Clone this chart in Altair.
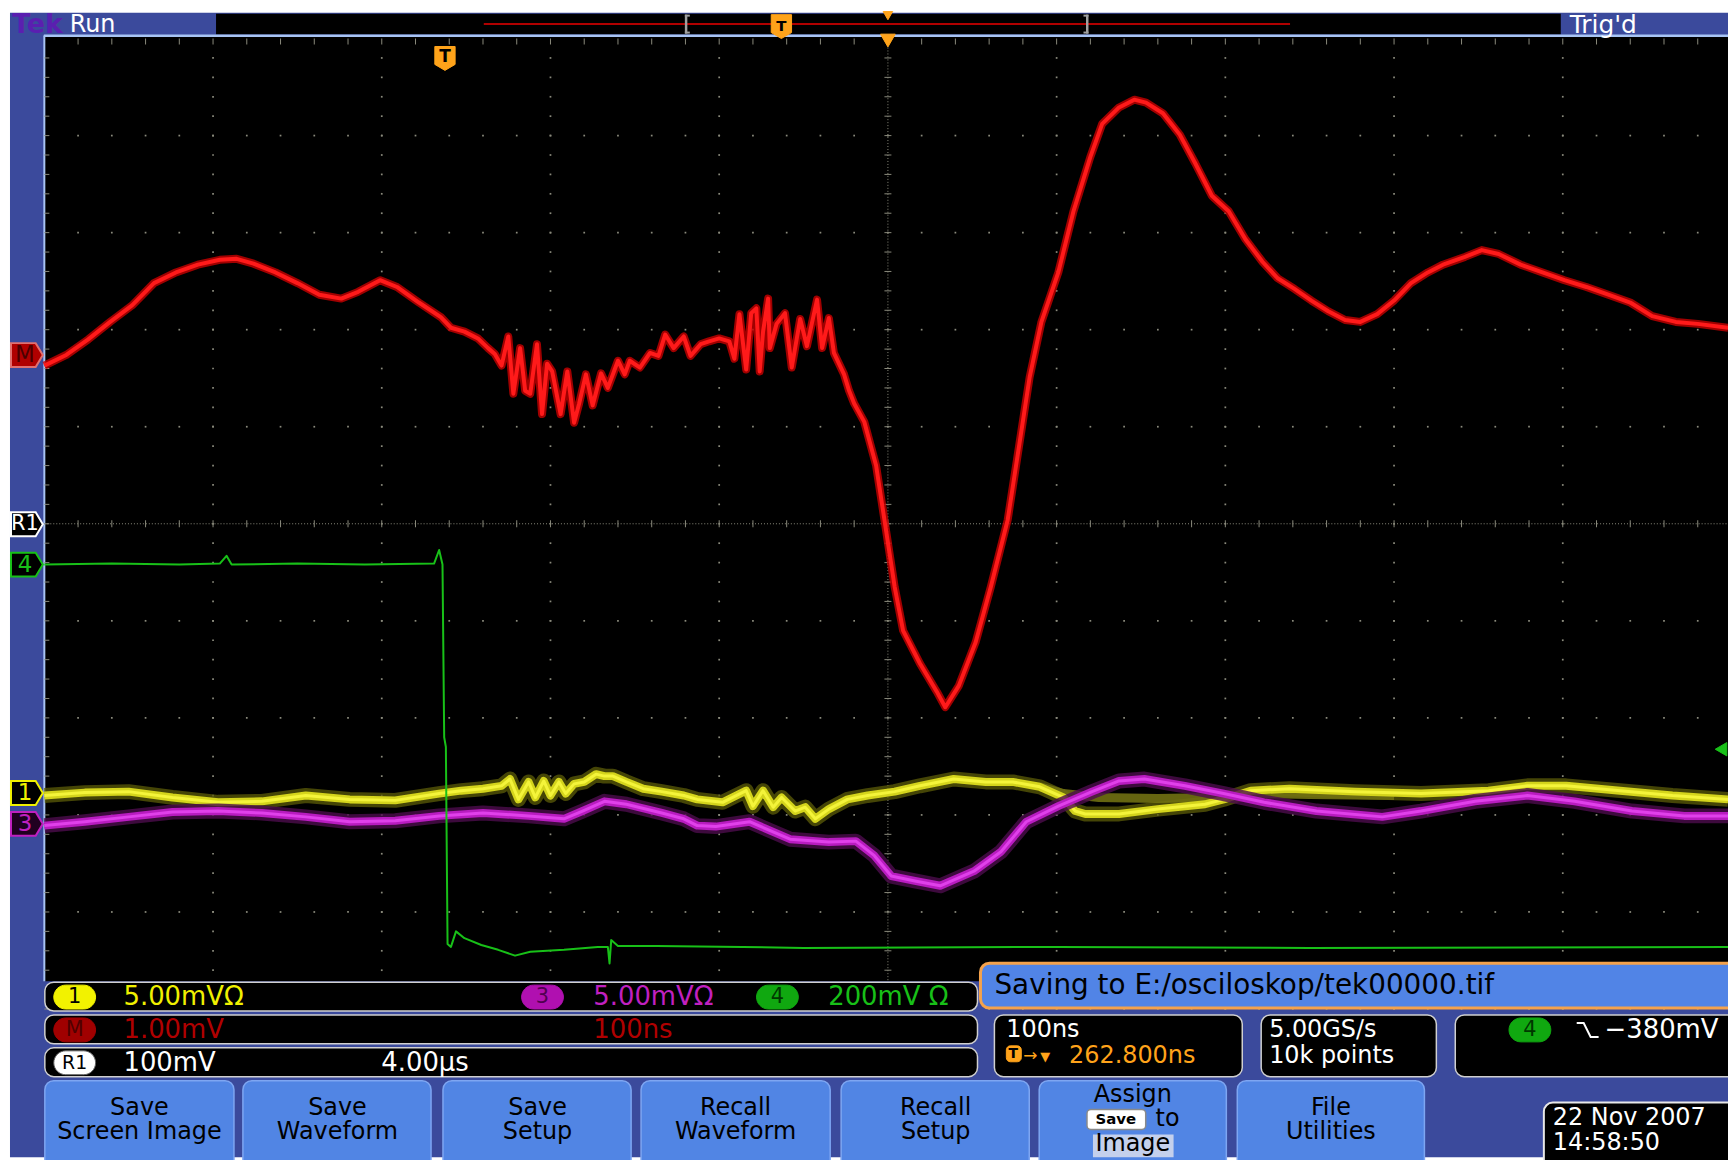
import altair as alt
import pandas as pd

# ---------------- data read from the screen ----------------
# time in ns from the left edge of the graticule (100 ns/div), level in divisions from centre line
red_t = [0, 13, 26, 39, 52, 65, 78, 91, 104, 114, 124, 137, 150, 163, 176, 186, 199, 209, 222, 235,
         241, 249, 257, 263, 267, 271, 275, 278, 282, 285, 288, 292, 295, 298, 301, 306, 310, 314, 317, 321,
         325, 330, 334, 340, 344, 347, 353, 359, 364, 368, 373, 379, 383, 389, 394, 400, 406, 409, 412, 416,
         419, 422, 424, 426, 429, 430, 434, 439, 443, 448, 452, 458, 461, 465, 468, 474, 477, 480, 486, 493,
         499, 504, 509, 519, 529, 534, 542, 552, 561, 571, 578, 584, 591, 601, 610, 620, 627, 637, 646, 653,
         663, 673, 682, 692, 702, 712, 722, 731, 741, 751, 761, 771, 780, 790, 800, 810, 820, 829, 842, 852,
         862, 875, 888, 901, 914, 927, 940, 953, 967, 980, 998]
red_v = [1.63, 1.74, 1.90, 2.08, 2.25, 2.48, 2.59, 2.67, 2.72, 2.73, 2.68, 2.59, 2.48, 2.36, 2.32, 2.39, 2.51, 2.44, 2.28, 2.13,
         2.02, 1.98, 1.91, 1.81, 1.75, 1.63, 1.93, 1.34, 1.81, 1.37, 1.34, 1.85, 1.13, 1.65, 1.57, 1.13, 1.57, 1.04, 1.24, 1.54,
         1.22, 1.55, 1.40, 1.68, 1.54, 1.68, 1.61, 1.76, 1.73, 1.95, 1.81, 1.93, 1.73, 1.85, 1.88, 1.91, 1.88, 1.70, 2.16, 1.59,
         2.17, 2.22, 1.57, 1.98, 2.32, 1.81, 2.06, 2.17, 1.61, 2.11, 1.83, 2.31, 1.81, 2.12, 1.76, 1.54, 1.37, 1.24, 1.05, 0.60,
         -0.08, -0.65, -1.10, -1.44, -1.73, -1.89, -1.67, -1.22, -0.65, 0.04, 0.83, 1.51, 2.08, 2.59, 3.22, 3.78, 4.12, 4.29, 4.37, 4.34,
         4.23, 4.01, 3.72, 3.38, 3.22, 2.93, 2.70, 2.53, 2.42, 2.30, 2.19, 2.10, 2.08, 2.16, 2.30, 2.48, 2.59, 2.67, 2.75, 2.82,
         2.78, 2.67, 2.59, 2.51, 2.44, 2.36, 2.28, 2.14, 2.08, 2.06, 2.02]

yel_t = [0, 24, 50, 76, 103, 129, 155, 181, 208, 234, 247, 260, 271, 276, 281, 287, 291, 296, 300, 305,
         309, 314, 320, 327, 332, 337, 345, 355, 366, 379, 387, 402, 416, 420, 426, 432, 437, 445, 451, 457,
         465, 476, 488, 504, 519, 539, 558, 574, 590, 604, 611, 617, 637, 660, 688, 699, 715, 738, 777, 816,
         856, 879, 902, 934, 965, 998]
yel_v = [-2.80, -2.77, -2.76, -2.82, -2.87, -2.86, -2.80, -2.84, -2.85, -2.78, -2.75, -2.73, -2.70, -2.63, -2.84, -2.66, -2.82, -2.65, -2.80, -2.66,
         -2.78, -2.68, -2.66, -2.58, -2.60, -2.60, -2.66, -2.73, -2.76, -2.80, -2.84, -2.87, -2.75, -2.91, -2.75, -2.92, -2.82, -2.96, -2.92, -3.04,
         -2.94, -2.84, -2.80, -2.76, -2.70, -2.63, -2.66, -2.66, -2.71, -2.82, -2.96, -2.99, -2.99, -2.94, -2.89, -2.84, -2.75, -2.73, -2.76, -2.78,
         -2.75, -2.70, -2.70, -2.75, -2.80, -2.84]
yel_ghost_t = [590, 604, 625, 660, 692, 715, 750, 800]
yel_ghost_v = [-2.71, -2.78, -2.82, -2.83, -2.82, -2.78, -2.79, -2.80]

mag_t = [0, 24, 50, 76, 103, 129, 155, 181, 208, 234, 260, 287, 308, 319, 332, 345, 366, 379, 387, 398,
         418, 442, 465, 481, 492, 502, 516, 531, 551, 567, 582, 601, 621, 637, 652, 676, 699, 723, 754, 793,
         816, 848, 879, 907, 941, 972, 998]
mag_v = [-3.11, -3.07, -3.02, -2.97, -2.96, -2.98, -3.02, -3.07, -3.06, -3.01, -2.98, -3.01, -3.04, -2.96, -2.86, -2.89, -2.98, -3.04, -3.11, -3.12,
         -3.07, -3.25, -3.28, -3.27, -3.42, -3.63, -3.68, -3.73, -3.58, -3.38, -3.07, -2.91, -2.76, -2.65, -2.63, -2.70, -2.78, -2.87, -2.96, -3.02,
         -2.96, -2.86, -2.80, -2.86, -2.96, -3.01, -3.01]

grn_t = [0, 40, 80, 104, 108, 111, 150, 190, 231, 234, 236, 237, 238, 239, 241, 244, 249, 259, 269, 279,
         288, 308, 328, 334, 335, 336, 340, 363, 450, 600, 750, 998]
grn_v = [-0.42, -0.41, -0.42, -0.41, -0.33, -0.42, -0.41, -0.42, -0.41, -0.27, -0.42, -2.20, -2.30, -4.33, -4.36, -4.20, -4.27, -4.34, -4.39, -4.45,
         -4.41, -4.39, -4.36, -4.36, -4.53, -4.29, -4.35, -4.35, -4.37, -4.36, -4.37, -4.36]

ch_labels = ["1", "3", "4"]
ch_scales = ["5.00mVΩ", "5.00mVΩ", "200mV Ω"]
math_scale = ["1.00mV", "100ns"]
ref_scale = ["100mV", "4.00µs"]
save_msg = "Saving to E:/osciloskop/tek00000.tif"
horiz = ["100ns", "262.800ns"]
acq = ["5.00GS/s", "10k points"]
trig_level = "−380mV"
date_time = ["22 Nov 2007", "14:58:50"]
buttons = [["Save", "Screen Image"], ["Save", "Waveform"], ["Save", "Setup"], ["Recall", "Waveform"],
           ["Recall", "Setup"], ["Assign", "to", "Image"], ["File", "Utilities"]]

# ---------------- geometry ----------------
FONT = "DejaVu Sans"
W, H = 1728, 1152
RX = [8, 1736]
RY = [8, 1160]
GX0, GXS, GY0, GYS = 44.5, 1.695, 523.5, 97.5
T_DOM = [(RX[0] - GX0) / GXS, (RX[1] - GX0) / GXS]
V_DOM = [(GY0 - RY[1]) / GYS, (GY0 - RY[0]) / GYS]
GRID = "#8a8a7c"
ORANGE = "#ffa31a"
FRAME = "#3b4a9c"
BTN = "#5185e4"


def X(f):
    return alt.X(f, type="quantitative", scale=alt.Scale(domain=RX, range=[0, W], nice=False, zero=False), axis=None)


def Y(f):
    return alt.Y(f, type="quantitative", scale=alt.Scale(domain=RY, range=[0, H], nice=False, zero=False), axis=None)


def T(f):
    return alt.X(f, type="quantitative", scale=alt.Scale(domain=T_DOM, range=[0, W], nice=False, zero=False), axis=None)


def V(f):
    return alt.Y(f, type="quantitative", scale=alt.Scale(domain=V_DOM, range=[H, 0], nice=False, zero=False), axis=None)


def rect_layer(rows, radius=0):
    df = pd.DataFrame(rows, columns=["x", "x2", "y", "y2", "fill", "stroke", "sw"])
    return alt.Chart(df).mark_rect(cornerRadius=radius).encode(
        x=X("x"), x2="x2", y=Y("y"), y2="y2",
        fill=alt.Fill("fill:N", scale=None), stroke=alt.Stroke("stroke:N", scale=None),
        strokeWidth=alt.StrokeWidth("sw:Q", scale=None))


def text_layer(rows, align="left", weight="normal"):
    df = pd.DataFrame(rows, columns=["x", "y", "text", "color", "size"])
    return alt.Chart(df).mark_text(align=align, baseline="middle", font=FONT, fontWeight=weight).encode(
        x=X("x"), y=Y("y"), text="text:N",
        color=alt.Color("color:N", scale=None), size=alt.Size("size:Q", scale=None))


def trace_layer(t, v, color, width, opacity=1.0):
    df = pd.DataFrame({"t": t, "v": v, "i": list(range(len(t)))})
    return alt.Chart(df).mark_line(color=color, strokeWidth=width, opacity=opacity,
                                   strokeJoin="round").encode(x=T("t"), y=V("v"), order="i:Q")


def sym_layer(rows, shape, size, sw=2):
    df = pd.DataFrame(rows, columns=["x", "y", "fill", "stroke"])
    return alt.Chart(df).mark_point(shape=shape, size=size, filled=True, opacity=1, strokeWidth=sw).encode(
        x=X("x"), y=Y("y"), fill=alt.Fill("fill:N", scale=None), stroke=alt.Stroke("stroke:N", scale=None))


L = []
# frame, screen, top bar
L.append(rect_layer([
    [10, 1736, 10, 1160, FRAME, FRAME, 0],
    [45, 1736, 33, 983, "#000000", "#000000", 0],
    [217, 1568, 11, 32, "#000000", "#000000", 0],
    [44, 1736, 32, 34.5, "#a8c4f4", "#a8c4f4", 0],
    [43.5, 45.5, 33, 983, "#a8c4f4", "#a8c4f4", 0],
    [486, 1296, 20.5, 22.5, "#b00000", "#b00000", 0],
    [688, 690.5, 12, 31, "#a0a0a0", "#a0a0a0", 0],
    [688, 693, 12, 14, "#a0a0a0", "#a0a0a0", 0],
    [688, 693, 29, 31, "#a0a0a0", "#a0a0a0", 0],
    [1091, 1093.5, 12, 31, "#a0a0a0", "#a0a0a0", 0],
    [1088.5, 1093.5, 12, 14, "#a0a0a0", "#a0a0a0", 0],
    [1088.5, 1093.5, 29, 31, "#a0a0a0", "#a0a0a0", 0],
]))

# graticule
maj_t = [t for t in range(100, 1001, 100) if t != 500]
min_v = [round(-5 + 0.2 * k, 1) for k in range(50)]
maj_v = [v for v in range(-5, 5) if v != 0]
min_t = list(range(20, 1001, 20))
dots = [(t, v) for t in maj_t for v in min_v] + [(t, v) for v in maj_v for t in min_t]
L.append(alt.Chart(pd.DataFrame(dots, columns=["t", "v"])).mark_square(size=3, color=GRID, opacity=1).encode(
    x=T("t"), y=V("v")))
L.append(alt.Chart(pd.DataFrame({"t": [500], "v": [5], "v2": [-5]})).mark_rule(
    color=GRID, strokeDash=[1, 2], strokeWidth=1).encode(x=T("t"), y=V("v"), y2="v2"))
L.append(alt.Chart(pd.DataFrame({"t": [0], "t2": [1010], "v": [0]})).mark_rule(
    color=GRID, strokeDash=[1, 2], strokeWidth=1).encode(x=T("t"), x2="t2", y=V("v")))
L.append(alt.Chart(pd.DataFrame({"t": min_t, "v": [0] * len(min_t)})).mark_tick(
    orient="vertical", size=7, thickness=1, color=GRID, opacity=1).encode(x=T("t"), y=V("v")))
L.append(alt.Chart(pd.DataFrame({"t": [500] * len(min_v), "v": min_v})).mark_tick(
    orient="horizontal", size=7, thickness=1, color=GRID, opacity=1).encode(x=T("t"), y=V("v")))
L.append(alt.Chart(pd.DataFrame({"t": min_t, "v": [4.97] * len(min_t)})).mark_tick(
    orient="vertical", size=6, thickness=1, color=GRID, opacity=1).encode(x=T("t"), y=V("v")))
L.append(alt.Chart(pd.DataFrame({"t": [1.5] * len(min_v), "v": min_v})).mark_tick(
    orient="horizontal", size=5, thickness=1, color=GRID, opacity=1).encode(x=T("t"), y=V("v")))

# waveforms
L.append(trace_layer(yel_t, yel_v, "#5c5c08", 15, 0.75))
L.append(trace_layer(yel_ghost_t, yel_ghost_v, "#707012", 9, 0.9))
L.append(trace_layer(yel_t, yel_v, "#d4d41c", 8))
L.append(trace_layer(yel_t, yel_v, "#f4f43a", 3))
L.append(trace_layer(mag_t, mag_v, "#4c0c4c", 15, 0.8))
L.append(trace_layer(mag_t, mag_v, "#b81cc0", 8))
L.append(trace_layer(mag_t, mag_v, "#e040ea", 3))
L.append(trace_layer(grn_t, grn_v, "#18c018", 2))
L.append(trace_layer(red_t, red_v, "#c80000", 8, 0.8))
L.append(trace_layer(red_t, red_v, "#ff1a1a", 4))

# channel markers on the left
MARK = "M -1 -0.75 L 0.55 -0.75 L 1 0 L 0.55 0.75 L -1 0.75 Z"
SHIELD = "M -0.85 -1 L 0.85 -1 L 0.85 0.5 L 0 1 L -0.85 0.5 Z"
L.append(sym_layer([
    [27, 354, "#b00000", "#e07070"],
    [27, 524, "#000000", "#ffffff"],
    [27, 564.5, "#000000", "#18c018"],
    [27, 794, "#000000", "#f0f000"],
    [27, 825, "#200020", "#c020c0"],
], MARK, 1024, 2))
L.append(text_layer([
    [25, 354, "M", "#4a0000", 23],
    [25, 524, "R1", "#ffffff", 21],
    [25, 564.5, ch_labels[2], "#18c018", 23],
    [25, 794, ch_labels[0], "#f0f000", 23],
    [25, 825, ch_labels[1], "#c020c0", 23],
], align="center"))
L.append(sym_layer([[447, 56, ORANGE, ORANGE], [785, 24, ORANGE, ORANGE]], SHIELD, 576, 1))
L.append(sym_layer([[892, 13, ORANGE, ORANGE]], "triangle-down", 90, 1))
L.append(sym_layer([[892, 38, ORANGE, ORANGE]], "triangle-down", 220, 1))
L.append(sym_layer([[1729, 750, "#18c018", "#18c018"]], "triangle-left", 180, 1))
L.append(text_layer([[447, 55, "T", "#000000", 17], [785, 23, "T", "#000000", 15]], align="center", weight="bold"))

# top bar text
L.append(text_layer([
    [12, 22, "Tek", "#5a1fb0", 27],
], weight="bold"))
L.append(text_layer([
    [70, 22, "Run", "#ffffff", 24],
    [1577, 22, "Trig'd", "#ffffff", 25],
]))

# readout boxes
L.append(rect_layer([
    [45, 982, 984, 1013, "#000000", "#d0d0d0", 1.5],
    [45, 982, 1017, 1046, "#000000", "#d0d0d0", 1.5],
    [45, 982, 1050, 1079, "#000000", "#d0d0d0", 1.5],
    [999, 1248, 1017, 1079, "#000000", "#d0d0d0", 1.5],
    [1267, 1443, 1017, 1079, "#000000", "#d0d0d0", 1.5],
    [1462, 1750, 1017, 1079, "#000000", "#d0d0d0", 1.5],
    [985, 1750, 965, 1010, "#5184e6", "#f4a24c", 3],
    [45, 235, 1083, 1180, BTN, "#7ea6f2", 1.5],
    [244, 433, 1083, 1180, BTN, "#7ea6f2", 1.5],
    [445, 634, 1083, 1180, BTN, "#7ea6f2", 1.5],
    [644, 834, 1083, 1180, BTN, "#7ea6f2", 1.5],
    [845, 1034, 1083, 1180, BTN, "#7ea6f2", 1.5],
    [1044, 1232, 1083, 1180, BTN, "#7ea6f2", 1.5],
    [1243, 1431, 1083, 1180, BTN, "#7ea6f2", 1.5],
    [1551, 1750, 1105, 1180, "#000000", "#e8e8e8", 2],
], radius=9))
L.append(rect_layer([
    [54, 96, 987, 1011, "#f2f200", "#f2f200", 1],
    [524, 566, 987, 1011, "#b010b0", "#b010b0", 1],
    [760, 802, 987, 1011, "#10a810", "#10a810", 1],
    [54, 96, 1020, 1044, "#a00000", "#a00000", 1],
    [54, 96, 1053, 1077, "#ffffff", "#606060", 1],
    [1516, 1558, 1020, 1044, "#10a810", "#10a810", 1],
], radius=12))
L.append(rect_layer([
    [1098, 1179, 1137, 1160, "#c4d0ec", "#c4d0ec", 0],
]))
L.append(rect_layer([
    [1092, 1151, 1112, 1132, "#ffffff", "#8a8a8a", 1.5],
    [1011, 1026, 1048, 1064, ORANGE, ORANGE, 1],
], radius=4))

L.append(text_layer([
    [75, 999, ch_labels[0], "#000000", 21],
    [545, 999, ch_labels[1], "#500050", 21],
    [781, 999, ch_labels[2], "#003800", 21],
    [75, 1032, "M", "#500000", 21],
    [75, 1065, "R1", "#000000", 19],
    [1537, 1032, ch_labels[2], "#003800", 21],
], align="center"))
L.append(text_layer([
    [1121, 1122, "Save", "#000000", 15],
    [1018, 1056, "T", "#000000", 14],
], align="center", weight="bold"))

L.append(text_layer([
    [124, 999, ch_scales[0], "#f0f000", 26],
    [596, 999, ch_scales[1], "#c020c0", 26],
    [832, 999, ch_scales[2], "#18c018", 26],
    [124, 1032, math_scale[0], "#b00000", 26],
    [596, 1032, math_scale[1], "#b00000", 26],
    [124, 1065, ref_scale[0], "#ffffff", 26],
    [383, 1065, ref_scale[1], "#ffffff", 26],
    [999, 988, save_msg, "#000000", 28],
    [1011, 1032, horiz[0], "#ffffff", 24],
    [1074, 1058, horiz[1], ORANGE, 24],
    [1028, 1058, "→", ORANGE, 17],
    [1045, 1059, "▼", ORANGE, 13],
    [1275, 1032, acq[0], "#ffffff", 24],
    [1275, 1058, acq[1], "#ffffff", 24],
    [1612, 1032, trig_level, "#ffffff", 26],
    [1560, 1121, date_time[0], "#ffffff", 24],
    [1560, 1146, date_time[1], "#ffffff", 24],
]))

# falling-edge trigger symbol
L.append(alt.Chart(pd.DataFrame({"x": [1584, 1591, 1598, 1606], "y": [1025, 1025, 1039, 1039], "i": [0, 1, 2, 3]}))
         .mark_line(color="#ffffff", strokeWidth=2).encode(x=X("x"), y=Y("y"), order="i:Q"))

# soft-key labels
centres = [140, 339, 540, 739, 940, 1138, 1337]
btn_rows = []
for c, lab in zip(centres, buttons):
    if len(lab) == 2:
        btn_rows.append([c, 1110, lab[0], "#000000", 24])
        btn_rows.append([c, 1135, lab[1], "#000000", 24])
    else:
        btn_rows.append([c, 1097, lab[0], "#000000", 24])
        btn_rows.append([c + 35, 1122, lab[1], "#000000", 24])
        btn_rows.append([c, 1147, lab[2], "#000000", 24])
L.append(text_layer(btn_rows, align="center"))

chart = alt.layer(*L).resolve_scale(x="independent", y="independent").properties(
    width=W, height=H, padding=0, autosize=alt.AutoSizeParams(type="none"), background="white"
).configure_view(stroke=None)

chart.save("out.html", embed_options={"renderer": "svg", "actions": False})
